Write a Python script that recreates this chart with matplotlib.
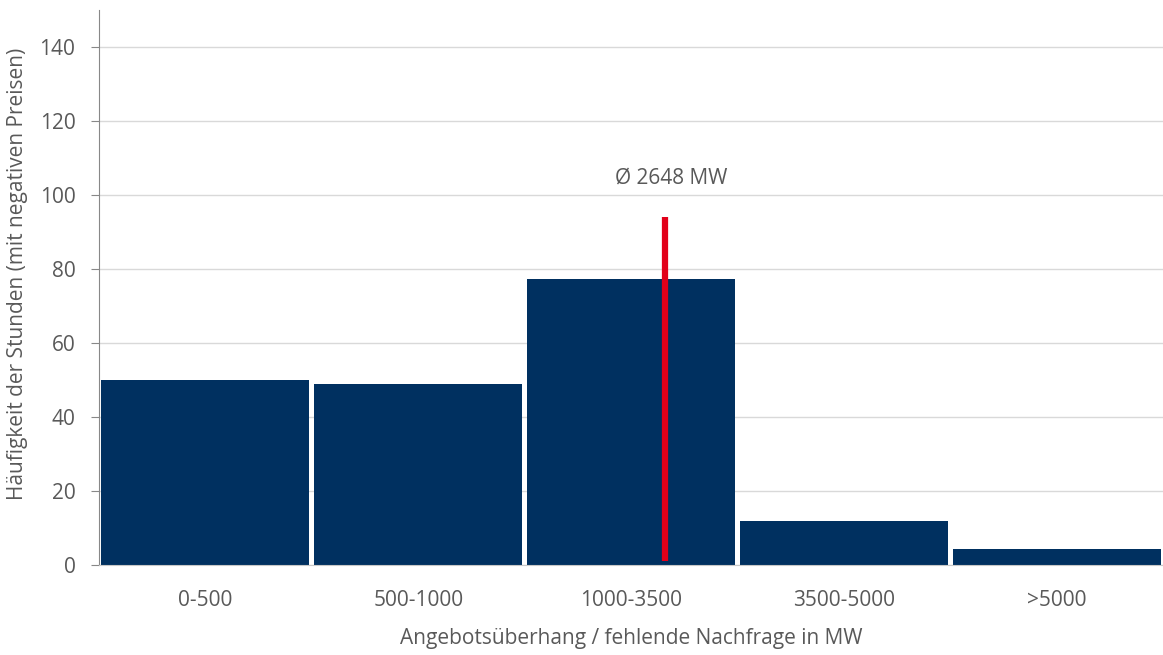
import matplotlib
matplotlib.use('Agg')
import matplotlib.pyplot as plt

categories = ['0-500', '500-1000', '1000-3500', '3500-5000', '>5000']
hours = [50, 48.8, 77.2, 12, 4.2]
mean_mw = 2648
mean_label = 'Ø 2648 MW'
mean_line_range = [1, 94]

plt.rcParams['font.family'] = ['Open Sans', 'DejaVu Sans']
grey = '#595959'
fs = 15

fig = plt.figure(figsize=(11.63, 6.55), dpi=100)
ax = fig.add_axes([99/1163, 90/655, 1 - 99/1163, 555/655])

x = list(range(len(categories)))
ax.bar(x, hours, width=0.977, color='#003060', linewidth=0, zorder=2)

# mean position inside the 1000-3500 bin
pos = 1.5 + (mean_mw - 1000) / 2500
ax.plot([pos, pos], mean_line_range, color='#E2001A', linewidth=4.5, solid_capstyle='butt', zorder=3)
ax.text(pos + 0.03, 104.5, mean_label, ha='center', va='center', fontsize=fs, color=grey)

ax.set_xlim(-0.5, 4.5)
ax.set_ylim(0, 150)
ax.set_yticks(range(0, 141, 20))
ax.set_xticks(x)
ax.set_xticklabels(categories)
ax.grid(axis='y', color='#d9d9d9', linewidth=1, zorder=0)
ax.set_axisbelow(True)

for s in ['top', 'right']:
    ax.spines[s].set_visible(False)
ax.spines['left'].set_color('#888888')
ax.spines['bottom'].set_color('#c8c8c8')
ax.tick_params(axis='x', length=0, pad=18, labelsize=fs, labelcolor=grey)
ax.tick_params(axis='y', length=6, color='#888888', pad=11, labelsize=fs, labelcolor=grey)

ax.set_xlabel('Angebotsüberhang / fehlende Nachfrage in MW', fontsize=fs, color=grey, labelpad=12)
ax.set_ylabel('Häufigkeit der Stunden (mit negativen Preisen)', fontsize=fs, color=grey)
ax.yaxis.set_label_coords(-71/1064, 0.524)

fig.savefig('out.png', dpi=100)
